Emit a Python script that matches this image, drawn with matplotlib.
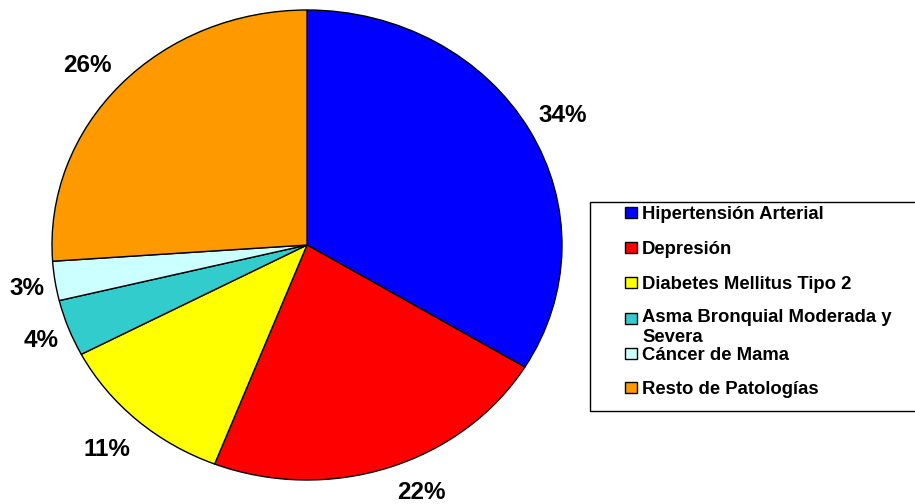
import matplotlib
matplotlib.use("Agg")
import matplotlib.pyplot as plt
from matplotlib.patches import Rectangle

categories = ["Hipertensión Arterial", "Depresión", "Diabetes Mellitus Tipo 2",
              "Asma Bronquial Moderada y\nSevera", "Cáncer de Mama", "Resto de Patologías"]
values = [33.7, 22.2, 11.4, 3.9, 2.7, 26.1]
colors = ["#0000FF", "#FF0000", "#FFFF00", "#33CCCC", "#CCFFFF", "#FF9900"]

plt.rcParams['font.family'] = ['Liberation Sans', 'DejaVu Sans']

W, H = 915, 504
fig = plt.figure(figsize=(W / 100, H / 100), dpi=100)
ax = fig.add_axes([0, 0, 1, 1])
wedges, texts, autotexts = ax.pie(
    values, colors=colors, startangle=90, counterclock=False,
    autopct='%.0f%%', pctdistance=1.15,
    wedgeprops=dict(edgecolor='black', linewidth=1.0),
    textprops=dict(fontsize=17.5, fontweight='bold', color='black'))
ax.set_aspect('auto')
cx, cy, rx, ry = 307, 245, 255, 235   # pixel centre (from top) and radii
ax.set_xlim(-cx / rx, (W - cx) / rx)
ax.set_ylim(-(H - cy) / ry, cy / ry)
ax.axis('off')

# percentage label placement (pixel centre x, baseline y), like the original layout
label_px = [(563, 122), (421, 499), (107, 456), (41, 347), (27, 295), (87, 72)]
for t, (px, py) in zip(autotexts, label_px):
    t.set_position(((px - cx) / rx, (cy - py) / ry))
    t.set_ha('center')
    t.set_va('baseline')

# legend box (clipped at right edge)
lx0, ly_top, ly_bot = 590, 202, 411
fig.patches.append(Rectangle((lx0 / W, 1 - ly_bot / H), (W + 10 - lx0) / W, (ly_bot - ly_top) / H,
                             transform=fig.transFigure, facecolor='white', edgecolor='black',
                             linewidth=1.0, zorder=5))
baselines = [219, 254, 289, 325, 360, 394]
line_h = 17
for lab, col, y in zip(categories, colors, baselines):
    fig.patches.append(Rectangle((625 / W, 1 - (y - 1) / H), 12 / W, 11 / H,
                                 transform=fig.transFigure, facecolor=col,
                                 edgecolor='black', linewidth=1.0, zorder=6))
    n_extra = lab.count('\n')
    fig.text(642 / W, 1 - (y + line_h * n_extra) / H, lab, ha='left', va='baseline',
             fontsize=13.3, fontweight='bold', zorder=7, linespacing=1.25)

fig.savefig("out.png", dpi=100)
